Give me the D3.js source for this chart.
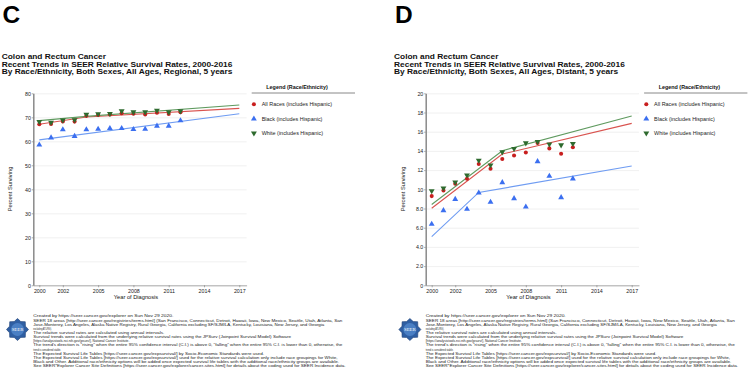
<!DOCTYPE html>
<html><head><meta charset="utf-8">
<script src="https://cdn.jsdelivr.net/npm/d3@7"></script>
<style>
html,body{margin:0;padding:0;background:#fff;}
svg{display:block;font-family:"Liberation Sans",Arial,sans-serif;}
</style></head>
<body><svg id="chart" width="750" height="376"></svg>
<script>
// ---------- DATA ----------
const years = [2000,2001,2002,2003,2004,2005,2006,2007,2008,2009,2010,2011,2012];
const xTickYears = [2000,2002,2005,2008,2011,2014,2017];

// Panel C: Regional, 5 years
const regionalAllRaces = [67.1,67.2,68.3,68.2,70.6,71.0,71.2,71.7,71.5,71.2,71.9,71.4,72.1];
const regionalBlack    = [58.5,61.5,64.9,62.1,64.9,65.1,65.4,65.4,65.0,65.1,66.4,66.4,68.6];
const regionalWhite    = [68.2,67.9,68.8,68.9,71.2,71.4,71.5,72.6,72.2,72.2,72.9,72.2,72.6];
const regionalTrendAll   = [[2000,67.1],[2004,70.1],[2017,73.7]];
const regionalTrendBlack = [[2000,60.6],[2017,71.5]];
const regionalTrendWhite = [[2000,68.6],[2004,70.4],[2017,75.1]];
const regionalYTicks  = [0,10,20,30,40,50,60,70,80];
const regionalYLabels = ["0","10","20","30","40","50","60","70","80"];

// Panel D: Distant, 5 years
const distantAllRaces = [9.29,9.88,10.57,11.10,12.63,12.14,13.15,13.53,13.84,14.82,14.26,13.70,14.38];
const distantBlack    = [6.37,7.79,8.97,7.93,9.63,8.66,10.71,9.04,8.17,12.90,11.37,9.15,11.10];
const distantWhite    = [9.84,10.12,10.75,11.48,13.01,12.52,13.88,14.23,14.82,14.96,14.71,14.61,14.75];
const distantTrendAll   = [[2000,8.03],[2006,13.67],[2017,16.87]];
const distantTrendBlack = [[2000,5.06],[2004,9.67],[2017,12.42]];
const distantTrendWhite = [[2000,8.42],[2006,14.02],[2017,17.63]];
const distantYTicks  = [0,2,4,6,8,10,12,14,16,18,20];
const distantYLabels = ["0","2.0","4.0","6.0","8.0","10","12","14","16","18","20"];

const seriesNames = ["All Races (includes Hispanic)","Black (includes Hispanic)","White (includes Hispanic)"];
const titleLine1 = "Colon and Rectum Cancer";
const titleLine2 = "Recent Trends in SEER Relative Survival Rates, 2000-2016";
const footerLines = [
 "Created by https://seer.cancer.gov/explorer on Sun Nov 29 2020.",
 "SEER 18 areas [http://seer.cancer.gov/registries/terms.html] (San Francisco, Connecticut, Detroit, Hawaii, Iowa, New Mexico, Seattle, Utah, Atlanta, San",
 "Jose-Monterey, Los Angeles, Alaska Native Registry, Rural Georgia, California excluding SF/SJM/LA, Kentucky, Louisiana, New Jersey, and Georgia",
 "excluding ATL/RG).",
 "The relative survival rates are calculated using annual intervals.",
 "Survival trends were calculated from the underlying relative survival rates using the JPSurv (Joinpoint Survival Model) Software",
 "[https://analysistools.nci.nih.gov/jpsurv/], National Cancer Institute.",
 "The trend's direction is \"rising\" when the entire 95% confidence interval (C.I.) is above 0, \"falling\" when the entire 95% C.I. is lower than 0, otherwise, the",
 "trend is considered stable.",
 "The Expected Survival Life Tables [https://seer.cancer.gov/expsurvival/] by Socio-Economic Standards were used.",
 "The Expected Survival Life Tables [https://seer.cancer.gov/expsurvival/] used for the relative survival calculation only include race groupings for White,",
 "Black and Other. Additional race/ethnicity options will be added once expected survival life tables with the additional race/ethnicity groups are available.",
 "See SEER*Explorer Cancer Site Definitions [https://seer.cancer.gov/explorer/cancer-sites.html] for details about the coding used for SEER Incidence data."
];
const footerWidths = [140,309,291,18.4,131,257.7,96,309,27.7,230.7,304.3,305.7,312.3];

// ---------- STYLE ----------
const markerColors = ["#c81e1e","#3b6ff0","#2e6a2e"];
const lineColors   = ["#d9534f","#6f9cf2","#5f9a5f"];

const svg = d3.select("#chart");

function drawPanel(dx, letter, subtitle, subtitleWidth, yMax, yTicks, yLabels, allR, black, white, tAll, tBlack, tWhite) {
  const g = svg.append("g").attr("transform", `translate(${dx},0)`);
  const x = d3.scaleLinear().domain([1999.49, 2017.62]).range([33.3, 246.6]);
  const y = d3.scaleLinear().domain([0, yMax]).range([285.3, 93.3]);

  // panel letter
  g.append("text").attr("x", 2.6).attr("y", 22.7).attr("font-size", 24.5).attr("font-weight", "bold")
    .attr("fill", "#000").text(letter);

  // titles
  const tl = [titleLine1, titleLine2, subtitle];
  const tw = [104.3, 230.7, subtitleWidth];
  tl.forEach((t, i) => {
    g.append("text").attr("x", 1.7).attr("y", 59.2 + i * 7.5).attr("font-size", 8).attr("font-weight", "bold")
      .attr("fill", "#111").attr("textLength", tw[i]).attr("lengthAdjust", "spacingAndGlyphs").text(t);
  });

  // gridlines
  g.append("g").attr("transform", "translate(33.3,0)")
    .call(d3.axisLeft(y).tickValues(yTicks).tickSize(-(246.6 - 33.3)).tickFormat(""))
    .call(s => { s.select(".domain").remove(); s.selectAll("line").attr("stroke", "#ececec").attr("stroke-width", 0.8); });

  // x axis
  const xa = g.append("g").attr("transform", "translate(0,285.3)")
    .call(d3.axisBottom(x).tickValues(xTickYears).tickSize(2).tickSizeOuter(0).tickPadding(1.6).tickFormat(d3.format("d")));
  xa.select(".domain").attr("stroke", "#999").attr("stroke-width", 0.8);
  xa.selectAll(".tick line").attr("stroke", "#777").attr("stroke-width", 0.6);
  xa.selectAll("text").attr("font-size", 5.3).attr("fill", "#222").attr("font-family", "Liberation Sans, Arial, sans-serif");

  // y axis
  const ya = g.append("g").attr("transform", "translate(33.3,0)")
    .call(d3.axisLeft(y).tickValues(yTicks).tickSize(1.6).tickSizeOuter(0).tickPadding(0.8)
      .tickFormat((d, i) => yLabels[i]));
  ya.select(".domain").attr("stroke", "#8a8a8a").attr("stroke-width", 1.5);
  ya.selectAll(".tick line").attr("stroke", "#777").attr("stroke-width", 0.6);
  ya.selectAll("text").attr("font-size", 5.3).attr("fill", "#222").attr("font-family", "Liberation Sans, Arial, sans-serif");

  // axis titles
  g.append("text").attr("transform", "translate(12.2,189) rotate(-90)").attr("text-anchor", "middle")
    .attr("font-size", 5.7).attr("fill", "#111").text("Percent Surviving");
  g.append("text").attr("x", 136).attr("y", 299.3).attr("text-anchor", "middle")
    .attr("font-size", 5.7).attr("fill", "#111").text("Year of Diagnosis");

  // trend lines
  const line = d3.line().x(d => x(d[0])).y(d => y(d[1]));
  [tAll, tBlack, tWhite].forEach((t, i) => {
    g.append("path").datum(t).attr("d", line).attr("fill", "none")
      .attr("stroke", lineColors[i]).attr("stroke-width", 1.1);
  });

  // markers
  const sym = [d3.symbol().type(d3.symbolCircle).size(13), d3.symbol().type(d3.symbolTriangle).size(15), d3.symbol().type(d3.symbolTriangle).size(15)];
  const rot = [0, 0, 180];
  [allR, black, white].forEach((vals, i) => {
    g.append("g").selectAll("path").data(vals).join("path")
      .attr("d", sym[i]())
      .attr("transform", (d, j) => `translate(${x(years[j])},${y(d)}) rotate(${rot[i]})`)
      .attr("fill", markerColors[i]);
  });

  // legend
  g.append("text").attr("x", 297).attr("y", 89).attr("text-anchor", "middle").attr("font-size", 5.4)
    .attr("font-weight", "bold").attr("fill", "#111").text("Legend (Race/Ethnicity)");
  g.append("line").attr("x1", 251.7).attr("x2", 355).attr("y1", 93).attr("y2", 93)
    .attr("stroke", "#888").attr("stroke-width", 1);
  const ly = [104.2, 118.9, 133.2];
  seriesNames.forEach((n, i) => {
    g.append("path").attr("d", sym[i]()).attr("transform", `translate(253.9,${ly[i]}) rotate(${rot[i]})`)
      .attr("fill", markerColors[i]);
    g.append("text").attr("x", 261.7).attr("y", ly[i] + 2).attr("font-size", 5.45).attr("fill", "#222").text(n);
  });

  // SEER logo
  const cx = 17.5, cy = 329.5;
  const star = [];
  for (let k = 0; k < 16; k++) {
    const a = Math.PI / 8 * k - Math.PI / 2;
    const r = k % 2 === 0 ? 11 : 8.6;
    star.push([cx + r * Math.cos(a), cy + r * Math.sin(a)]);
  }
  g.append("polygon").attr("points", star.map(p => p.join(",")).join(" "))
    .attr("fill", "#2f5fa3").attr("stroke", "#1e3f75").attr("stroke-width", 0.6);
  g.append("circle").attr("cx", cx).attr("cy", cy).attr("r", 6.5).attr("fill", "#4a7fc4");
  g.append("text").attr("x", cx).attr("y", cy + 1.7).attr("text-anchor", "middle").attr("font-size", 4.8)
    .attr("fill", "#fff").attr("font-family", "Liberation Serif, serif").text("SEER");

  // footer
  footerLines.forEach((t, i) => {
    g.append("text").attr("x", 33.3).attr("y", 317.4 + i * 4.15).attr("font-size", 4.1).attr("fill", "#222")
      .attr("textLength", footerWidths[i]).attr("lengthAdjust", "spacingAndGlyphs").text(t);
  });
}

drawPanel(0, "C", "By Race/Ethnicity, Both Sexes, All Ages, Regional, 5 years", 230.7, 80, regionalYTicks, regionalYLabels,
  regionalAllRaces, regionalBlack, regionalWhite, regionalTrendAll, regionalTrendBlack, regionalTrendWhite);
drawPanel(392.4, "D", "By Race/Ethnicity, Both Sexes, All Ages, Distant, 5 years", 224, 20, distantYTicks, distantYLabels,
  distantAllRaces, distantBlack, distantWhite, distantTrendAll, distantTrendBlack, distantTrendWhite);
</script></body></html>
